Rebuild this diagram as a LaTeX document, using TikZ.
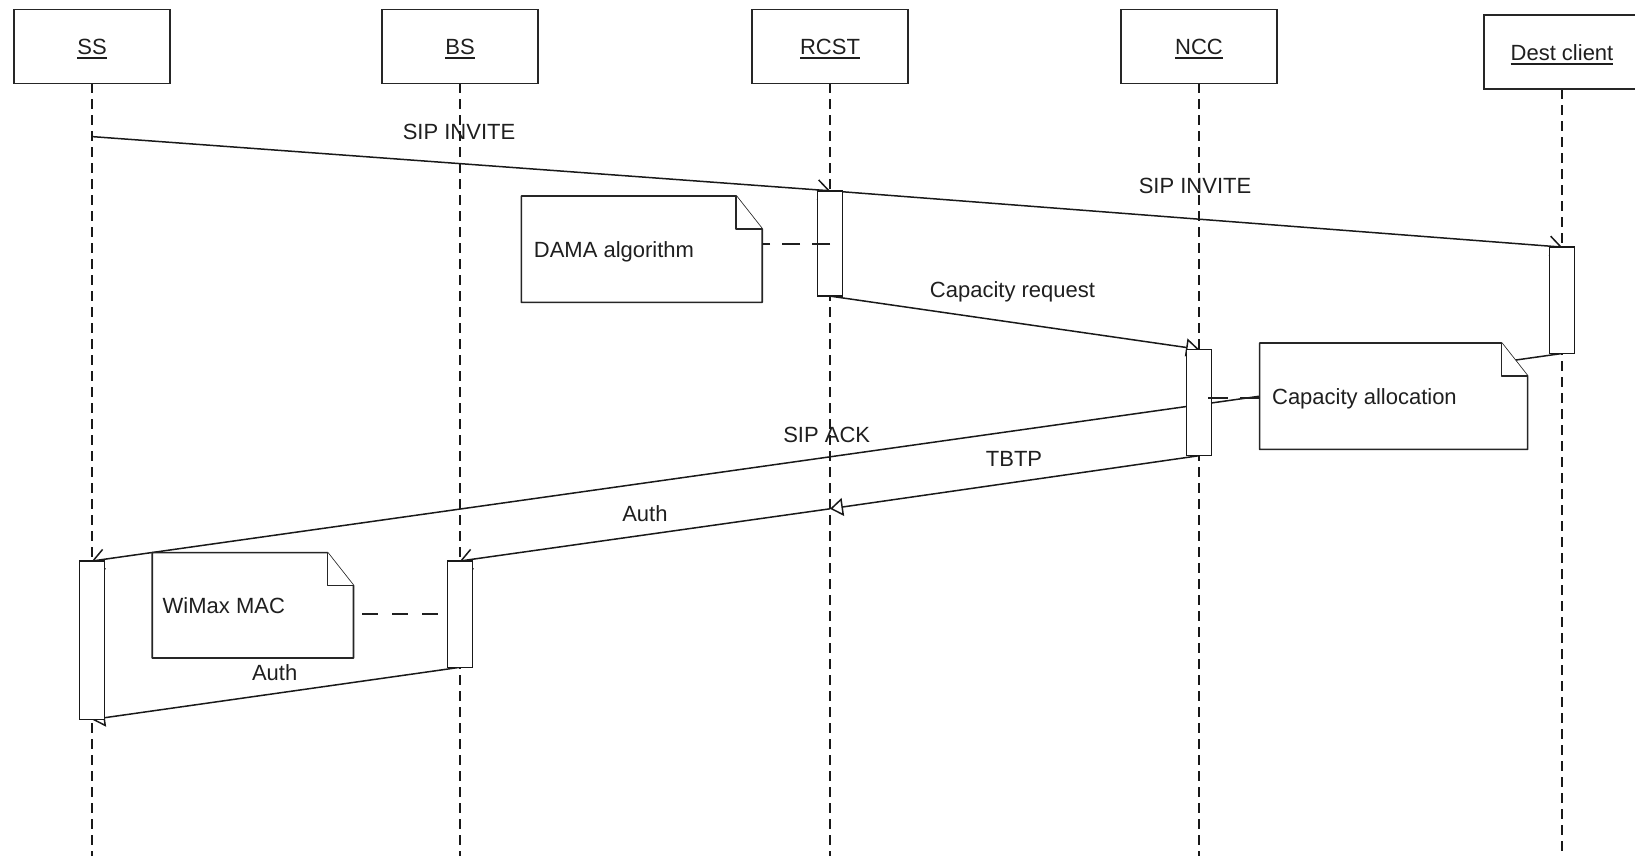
\documentclass[tikz,border=0pt]{standalone}
\usepackage{fontspec}
\setmainfont{Liberation Sans}
\usetikzlibrary{arrows.meta,backgrounds}
% underlined object name in a lifeline header
\newcommand\objname[1]{\setbox0\hbox{#1}\rlap{\rule[-4.5pt]{\wd0}{1.6pt}}\box0}
\begin{document}
\begin{tikzpicture}[x=1pt,y=-1pt,
  every node/.style={font=\fontsize{22}{26}\selectfont, text=black!88, inner sep=0pt, outer sep=0pt},
  header/.style={draw=black!85, line width=1.6pt, fill=white, minimum width=156pt, minimum height=74pt, text height=15.8pt, text depth=0pt},
  lifeline/.style={draw=black!90, line width=1.5pt, dash pattern=on 10pt off 6pt},
  activation/.style={draw=black!90, line width=1.5pt, fill=white, minimum width=25pt},
  msg/.style={draw=black!90, line width=1.5pt},
  callmsg/.style={msg, -{Straight Barb[length=11pt,width=20pt,line width=1.5pt]}},
  asyncmsg/.style={msg, -{Triangle[open,length=13pt,width=18pt,line width=1.5pt]}},
  notearea/.style={minimum height=106.4pt},
  notefold/.style={draw=black!85, line width=1.6pt, fill=white, line join=round},
  notetext/.style={anchor=west, text height=15.8pt, text depth=0pt},
  notelink/.style={draw=black!88, line width=1.8pt},
  msglabel/.style={anchor=base}
]
\useasboundingbox (0,0) rectangle (1635,856);
\clip (0,0) rectangle (1635,856);

% lifeline headers
\node[header] (ss)   at (92,46.4)   {\objname{SS}};
\node[header] (bs)   at (460,46.4)  {\objname{BS}};
\node[header] (rcst) at (830,46.4)  {\objname{RCST}};
\node[header] (ncc)  at (1199,46.4) {\objname{NCC}};
\node[header] (dest) at (1562,52.2) {\objname{Dest client}};

\coordinate (ssend)   at (92,856);
\coordinate (bsend)   at (460,856);
\coordinate (rcstend) at (830,856);
\coordinate (nccend)  at (1199,856);
\coordinate (destend) at (1562,856);

% activation bars
\node[activation, minimum height=105.3pt] (actrcst) at (830,243.45) {};
\node[activation, minimum height=106.4pt] (actdest) at (1562,300.3) {};
\node[activation, minimum height=106.4pt] (actncc)  at (1199,402.5) {};
\node[activation, minimum height=158.5pt] (actss)   at (92,640.25)  {};
\node[activation, minimum height=106.3pt] (actbs)   at (460,614.15) {};

% message end points that are not on an activation
\coordinate (invstart) at (92,136.6);
\coordinate (relay)    at (830,508.8);

\begin{pgfonlayer}{background}
  \draw[lifeline] (ss.south)   -- (ssend);
  \draw[lifeline] (bs.south)   -- (bsend);
  \draw[lifeline] (rcst.south) -- (rcstend);
  \draw[lifeline] (ncc.south)  -- (nccend);
  \draw[lifeline] (dest.south) -- (destend);

  \draw[callmsg]  (invstart)      -- (actrcst.north);
  \draw[callmsg]  (actrcst.north) -- (actdest.north);
  \draw[asyncmsg] (actrcst.south) -- (actncc.north);
  \draw[callmsg]  (actdest.south) -- (actss.north);
  \draw[asyncmsg] (actncc.south)  -- (relay);
  \draw[callmsg]  (relay)         -- (actbs.north);
  \draw[asyncmsg] (actbs.south)   -- (actss.south);
\end{pgfonlayer}

% notes with folded corner
\node[notearea, minimum width=240.8pt] (dama)  at (641.8,249.2) {};
\node[notearea, minimum width=268pt]   (alloc) at (1393.6,396.2) {};
\node[notearea, minimum width=201.3pt, minimum height=105.4pt] (wimax) at (252.85,605.3) {};
\foreach \n in {dama,alloc,wimax}{
  \draw[notefold] (\n.north west) -- ([xshift=-26pt]\n.north east)
    -- ([yshift=-33pt]\n.north east) -- (\n.south east) -- (\n.south west) -- cycle;
  \draw[notefold] ([xshift=-26pt]\n.north east) -- ([xshift=-26pt,yshift=-33pt]\n.north east)
    -- ([yshift=-33pt]\n.north east);
}
\node[notetext] (damatext)  at ([xshift=12.5pt]dama.west)  {DAMA algorithm};
\node[notetext] (alloctext) at ([xshift=12.5pt]alloc.west) {Capacity allocation};
\node[notetext] (wimaxtext) at ([xshift=10.5pt]wimax.west) {WiMax MAC};

% note attachments
\coordinate (damalink)  at (830,244);
\coordinate (alloclink) at (1199,398);
\coordinate (wimaxlink) at (440,614);
\draw[notelink, dash pattern=on 18pt off 12pt] (damalink) -- (damalink -| dama.east);
\draw[notelink, dash pattern=on 20pt off 12pt] (alloclink -| alloc.west) -- (alloclink);
\draw[notelink, dash pattern=on 16pt off 14pt] ([xshift=8.5pt]wimaxlink -| wimax.east) -- (wimaxlink);

% message labels
\node[msglabel] (l1) at (459,139.6)  {SIP INVITE};
\node[msglabel] (l2) at (1195,193.8) {SIP INVITE};
\node[msglabel] (l3) at (1012.5,297.5) {Capacity request};
\node[msglabel] (l4) at (826.7,442.3) {SIP ACK};
\node[msglabel] (l5) at (1014,466)   {TBTP};
\node[msglabel] (l6) at (644.9,521.2) {Auth};
\node[msglabel] (l7) at (274.7,680.7) {Auth};
\end{tikzpicture}
\end{document}
